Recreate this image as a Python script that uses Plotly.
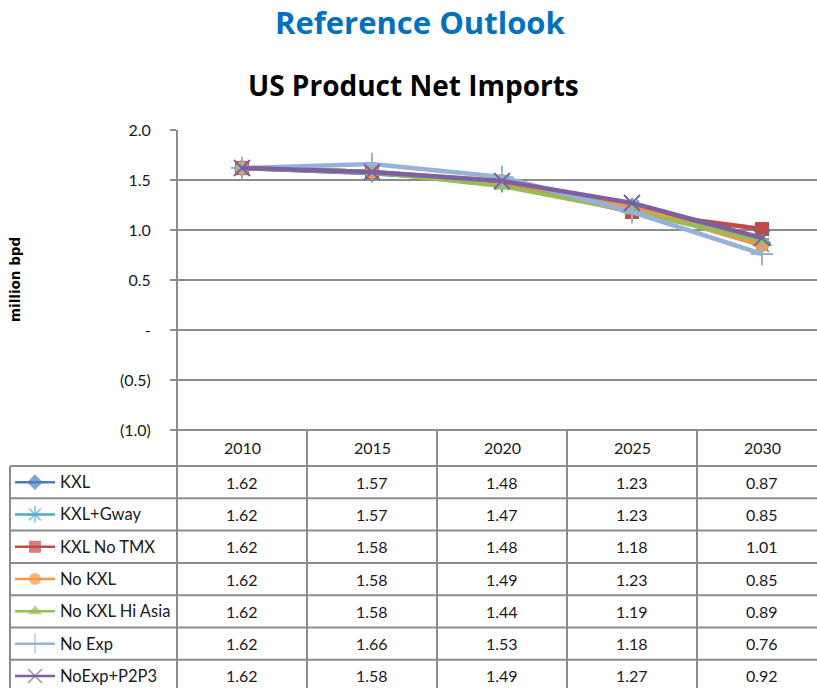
import plotly.graph_objects as go

# ---- data ---------------------------------------------------------------
years = ["2010", "2015", "2020", "2025", "2030"]
series_names = ["KXL", "KXL+Gway", "KXL No TMX", "No KXL",
                "No KXL Hi Asia", "No Exp", "NoExp+P2P3"]
kxl = [1.62, 1.57, 1.48, 1.23, 0.87]
kxl_gway = [1.62, 1.57, 1.47, 1.23, 0.85]
kxl_no_tmx = [1.62, 1.58, 1.48, 1.18, 1.01]
no_kxl = [1.62, 1.58, 1.49, 1.23, 0.85]
no_kxl_hi_asia = [1.62, 1.58, 1.44, 1.19, 0.89]
no_exp = [1.62, 1.66, 1.53, 1.18, 0.76]
noexp_p2p3 = [1.62, 1.58, 1.49, 1.27, 0.92]
series_values = [kxl, kxl_gway, kxl_no_tmx, no_kxl, no_kxl_hi_asia, no_exp, noexp_p2p3]

y_tickvals = [-1.0, -0.5, 0.0, 0.5, 1.0, 1.5, 2.0]
y_ticktext = ["(1.0)", "(0.5)", "-", "0.5", "1.0", "1.5", "2.0"]

# ---- styles -------------------------------------------------------------
colors = ["#4A7EBB", "#4BACC6", "#BE4B48", "#F79646", "#9BBB59", "#95B3D7", "#7D60A0"]
symbols = ["diamond", "asterisk", "square", "circle", "triangle-up", "cross-thin", "x-thin"]
thin = {"asterisk", "cross-thin", "x-thin"}
FONT = "Lato"
TEXT = "#1a1a1a"
GRID = "#8C8C8C"

# ---- page geometry (pixels) ---------------------------------------------
W, H = 817, 688
ML, MR, MT, MB = 10, 0, 130, 0
PW, PH = W - ML - MR, H - MT - MB
PLOT_L = 177          # left edge of chart / first table column
PLOT_B = 430          # bottom of chart, top of table header
COL_W = 130           # width of each year column
HEAD_H = 36           # header row height
ROW_H = 32.3          # data row height


def px(xp):
    return (xp - ML) / PW


def py(yp):
    return (H - MB - yp) / PH


x_dom0 = px(PLOT_L)
x_max = -0.5 + (W - MR - PLOT_L) / COL_W
chart_y0 = py(PLOT_B)

fig = go.Figure()

# ---- chart lines --------------------------------------------------------
for name, vals, c, s in zip(series_names, series_values, colors, symbols):
    is_thin = s in thin
    fig.add_trace(go.Scatter(
        x=list(range(len(years))), y=vals, name=name,
        mode="lines+markers", xaxis="x", yaxis="y",
        line=dict(color=c, width=4.5),
        marker=dict(symbol=s, size=14 if not is_thin else 16, color=c,
                    line=dict(color=c, width=2 if is_thin else 0)),
        cliponaxis=False, showlegend=False,
    ))

# ---- legend keys in the table's first column ----------------------------
n_rows = len(series_names)
row_lo = -HEAD_H / ROW_H
row_hi = (H - MB - PLOT_B - HEAD_H) / ROW_H
for k, (c, s) in enumerate(zip(colors, symbols)):
    is_thin = s in thin
    fig.add_trace(go.Scatter(
        x=[15, 35, 55], y=[k + 0.5] * 3, xaxis="x2", yaxis="y3",
        mode="lines+markers",
        line=dict(color=c, width=2.5),
        marker=dict(symbol=s, size=[0, 12 if not is_thin else 14, 0], color=c,
                    line=dict(color=c, width=1.5 if is_thin else 0)),
        showlegend=False, hoverinfo="skip", cliponaxis=False,
    ))

shapes = []
line_style = dict(color=GRID, width=2)
# header top / chart bottom edge
shapes.append(dict(type="line", xref="paper", yref="paper",
                   x0=px(PLOT_L), x1=1, y0=py(PLOT_B), y1=py(PLOT_B), line=line_style))
# row separators
for k in range(n_rows + 1):
    yy = py(PLOT_B + HEAD_H + k * ROW_H)
    shapes.append(dict(type="line", xref="paper", yref="paper",
                       x0=0, x1=1, y0=yy, y1=yy, line=line_style))
# left border of the series-name column
shapes.append(dict(type="line", xref="paper", yref="paper",
                   x0=0, x1=0, y0=py(PLOT_B + HEAD_H), y1=0, line=line_style))
# column dividers
for j in range(len(years) + 1):
    xx = px(PLOT_L + j * COL_W)
    if xx > 1:
        continue
    y_top = 1 if j == 0 else py(PLOT_B)
    shapes.append(dict(type="line", xref="paper", yref="paper",
                       x0=xx, x1=xx, y0=y_top, y1=0, line=line_style))

annotations = []
# year headers
for i, yr in enumerate(years):
    annotations.append(dict(x=i, xref="x", y=py(PLOT_B + HEAD_H / 2), yref="paper",
                            text=yr, showarrow=False, xanchor="center", yanchor="middle",
                            font=dict(family=FONT, size=16, color=TEXT)))
# table values and series names
for k, (name, vals) in enumerate(zip(series_names, series_values)):
    yc = py(PLOT_B + HEAD_H + (k + 0.5) * ROW_H)
    annotations.append(dict(x=px(58), xref="paper", y=yc, yref="paper", text=name,
                            showarrow=False, xanchor="left", yanchor="middle",
                            font=dict(family=FONT, size=16.5, color=TEXT)))
    for i, v in enumerate(vals):
        annotations.append(dict(x=i, xref="x", y=yc, yref="paper", text=f"{v:.2f}",
                                showarrow=False, xanchor="center", yanchor="middle",
                                font=dict(family=FONT, size=16, color=TEXT)))

# titles and axis title
annotations.append(dict(x=px(420), xref="paper", y=py(22), yref="paper",
                        text="<b>Reference Outlook</b>", showarrow=False,
                        xanchor="center", yanchor="middle",
                        font=dict(family="Open Sans", size=31, color="#0070C0")))
annotations.append(dict(x=px(413), xref="paper", y=py(85), yref="paper",
                        text="<b>US Product Net Imports</b>", showarrow=False,
                        xanchor="center", yanchor="middle",
                        font=dict(family="Open Sans", size=28, color="#000000")))
annotations.append(dict(x=px(15), xref="paper", y=py(280), yref="paper",
                        text="<b>million bpd</b>", showarrow=False, textangle=-90,
                        xanchor="center", yanchor="middle",
                        font=dict(family="DejaVu Sans", size=13.5, color="#000000")))

fig.update_layout(
    width=W, height=H,
    margin=dict(l=ML, r=MR, t=MT, b=MB, pad=0, autoexpand=False),
    paper_bgcolor="white", plot_bgcolor="white",
    xaxis=dict(domain=[x_dom0, 1], range=[-0.5, x_max], showgrid=False,
               zeroline=False, showticklabels=False, ticks="", anchor="y",
               automargin=False, fixedrange=True),
    yaxis=dict(domain=[chart_y0, 1], range=[-1.0, 2.0], tickvals=y_tickvals,
               ticktext=y_ticktext, showgrid=True, gridcolor=GRID, gridwidth=2,
               zeroline=False, ticks="outside", ticklen=6, tickcolor=GRID,
               tickwidth=2, showline=False, anchor="x", ticklabelstandoff=16,
               tickfont=dict(family=FONT, size=16, color=TEXT),
               automargin=False, fixedrange=True),
    xaxis2=dict(domain=[0, x_dom0], range=[ML, PLOT_L], visible=False,
                anchor="y3", automargin=False),
    yaxis3=dict(domain=[0, chart_y0], range=[row_hi, row_lo], visible=False,
                anchor="x2", automargin=False),
    shapes=shapes,
    annotations=annotations,
)

fig.write_html("out.html")
